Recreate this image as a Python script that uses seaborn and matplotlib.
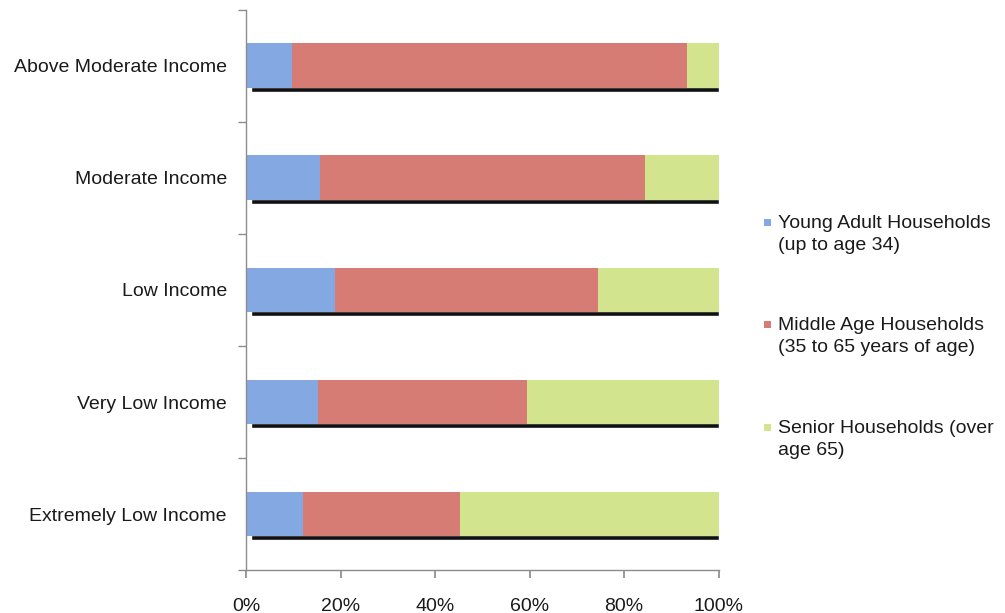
import matplotlib
matplotlib.use("Agg")
import matplotlib.pyplot as plt
import seaborn as sns
import pandas as pd
import numpy as np
from matplotlib.patches import Rectangle
from matplotlib.ticker import PercentFormatter, FixedLocator

categories = ["Above Moderate Income", "Moderate Income", "Low Income",
              "Very Low Income", "Extremely Low Income"]
young = [9.6, 15.7, 18.7, 15.1, 12.1]
middle = [83.8, 68.8, 55.8, 44.3, 33.1]
senior = [6.6, 15.5, 25.5, 40.6, 54.8]
series_names = ["Young Adult Households\n(up to age 34)",
                "Middle Age Households\n(35 to 65 years of age)",
                "Senior Households (over\nage 65)"]
colors = ["#84a8e2", "#d67c75", "#d2e48e"]
x_ticks = [0, 20, 40, 60, 80, 100]

sns.set_theme(style="white")
plt.rcParams['font.family'] = ['Liberation Sans', 'DejaVu Sans']

df = pd.DataFrame({"cat": categories, "young": young, "middle": middle, "senior": senior})
df["c1"] = df["young"]
df["c2"] = df["young"] + df["middle"]
df["c3"] = df["c2"] + df["senior"]

W, H = 1005, 613
fig = plt.figure(figsize=(W / 100, H / 100), dpi=100)
ax = fig.add_axes([0.245, 0.070, 0.470, 0.914])

# drop shadow
pos = np.arange(len(categories))
ax.barh(pos + 0.21, df["c3"] - 1.0, left=1.0, height=0.05, color="#111111", zorder=1)

for col, c in zip(["c3", "c2", "c1"], colors[::-1]):
    sns.barplot(data=df, x=col, y="cat", order=categories, color=c, width=0.40,
                saturation=1, ax=ax, zorder=2, linewidth=0)

ax.set_xlim(0, 100)
ax.set_ylim(len(categories) - 0.5, -0.5)
ax.set_xlabel("")
ax.set_ylabel("")
ax.xaxis.set_major_locator(FixedLocator(x_ticks))
ax.xaxis.set_major_formatter(PercentFormatter(decimals=0))
ax.yaxis.set_minor_locator(FixedLocator(np.arange(-0.5, len(categories) + 0.5, 1.0)))

for s in ["top", "right"]:
    ax.spines[s].set_visible(False)
for s in ["left", "bottom"]:
    ax.spines[s].set_color("#8c8c8c")
    ax.spines[s].set_linewidth(1.0)

ax.tick_params(axis="x", which="major", direction="out", length=6, color="#8c8c8c",
               labelsize=14, labelcolor="#1a1a1a", pad=14, bottom=True)
ax.tick_params(axis="y", which="major", length=0, labelsize=14, labelcolor="#1a1a1a", pad=14)
ax.tick_params(axis="y", which="minor", direction="out", length=6, color="#8c8c8c", left=True)

# legend (manual, marker aligned with first line)
baselines = [232, 334, 437]
for name, c, b in zip(series_names, colors, baselines):
    fig.text(778 / W, 1 - (b - 17) / H, name, fontsize=14, color="#1a1a1a",
             va="top", ha="left", linespacing=1.35)
    fig.add_artist(Rectangle((764 / W, 1 - (b - 6) / H), 7 / W, 7 / H,
                             transform=fig.transFigure, facecolor=c, edgecolor="none"))

fig.savefig("out.png", dpi=100, facecolor="white")
